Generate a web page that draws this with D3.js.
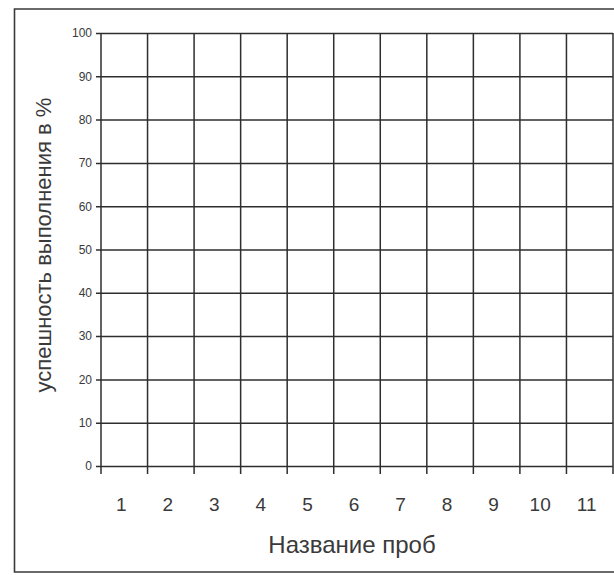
<!DOCTYPE html>
<html>
<head>
<meta charset="utf-8">
<script src="https://cdn.jsdelivr.net/npm/d3@7"></script>
<style>
  body { margin: 0; background: #fff; }
  svg { display: block; }
</style>
</head>
<body>
<div id="chart"></div>
<script>
// data
var categories = ['1', '2', '3', '4', '5', '6', '7', '8', '9', '10', '11'];
var yTicks = [0, 10, 20, 30, 40, 50, 60, 70, 80, 90, 100];
var xTitle = 'Название проб';
var yTitle = 'успешность выполнения в %';

var width = 614, height = 575;
var plotLeft = 101, plotRight = 613, plotTop = 33, plotBottom = 466;
var lineColor = '#2e2e2e';
var textColor = '#3a3a3a';

var svg = d3.select('#chart').append('svg')
    .attr('width', width)
    .attr('height', height)
    .style('font-family', '"Liberation Sans", Arial, sans-serif');

// outer frame (right edge runs off the page)
svg.append('path')
    .attr('d', 'M' + (plotRight + 20) + ',9 L14.5,9 L14.5,572 L' + (plotRight + 20) + ',572')
    .attr('fill', 'none')
    .attr('stroke', '#3a3a3a')
    .attr('stroke-width', 1.6);

var x = d3.scaleBand().domain(categories).range([plotLeft, plotRight]).padding(0);
var y = d3.scaleLinear().domain([0, 100]).range([plotBottom, plotTop]);

// horizontal grid + y ticks
var yAxis = d3.axisLeft(y).tickValues(yTicks).tickSize(-(plotRight - plotLeft)).tickPadding(4);
var gy = svg.append('g')
    .attr('transform', 'translate(' + plotLeft + ',0)')
    .call(yAxis);
gy.select('.domain').remove();
gy.selectAll('.tick line')
    .attr('x1', -5)
    .attr('stroke', lineColor)
    .attr('stroke-width', 1.5);
gy.selectAll('.tick text')
    .attr('x', -9)
    .attr('fill', textColor)
    .style('font-size', '12px');

// vertical grid lines at band edges
var edges = categories.map(function(c) { return x(c); }).concat([x.range()[1]]);
svg.append('g').selectAll('line')
    .data(edges)
    .enter()
    .append('line')
    .attr('x1', function(d) { return d; })
    .attr('x2', function(d) { return d; })
    .attr('y1', plotTop)
    .attr('y2', plotBottom + 8)
    .attr('stroke', lineColor)
    .attr('stroke-width', 1.5);

// x labels
svg.append('g').selectAll('text')
    .data(categories)
    .enter()
    .append('text')
    .attr('x', function(d) { return x(d) + x.bandwidth() / 2 - 3; })
    .attr('y', 511)
    .attr('text-anchor', 'middle')
    .attr('fill', textColor)
    .style('font-size', '19px')
    .text(function(d) { return d; });

// titles
svg.append('text')
    .attr('x', 352)
    .attr('y', 553)
    .attr('text-anchor', 'middle')
    .attr('fill', textColor)
    .style('font-size', '24px')
    .text(xTitle);

svg.append('text')
    .attr('transform', 'translate(51,' + 245 + ') rotate(-90)')
    .attr('text-anchor', 'middle')
    .attr('fill', textColor)
    .style('font-size', '22px')
    .text(yTitle);
</script>
</body>
</html>
